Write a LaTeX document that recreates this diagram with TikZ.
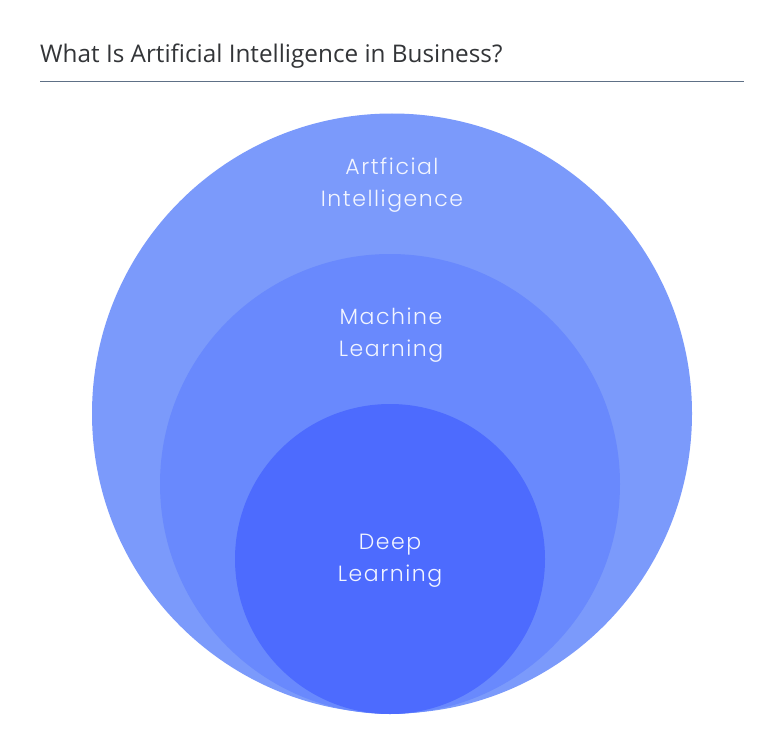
\documentclass[tikz,border=0pt]{standalone}
\usepackage{fontspec}
\setmainfont{Open Sans}
\newfontfamily\titlefont{Open Sans}
\newfontfamily\lblfont{Poppins}[UprightFont={* Light}, LetterSpace=7]
\definecolor{outerc}{HTML}{7B9AFB}
\definecolor{midc}{HTML}{6989FD}
\definecolor{innerc}{HTML}{4D6BFE}
\definecolor{titlec}{HTML}{333538}
\definecolor{rulec}{HTML}{5E7086}
\definecolor{labelc}{HTML}{F2F5FF}
\tikzset{
  ring/.style={circle, draw=none, inner sep=0pt, minimum size=#1},
  lbl/.style={text=labelc, font=\lblfont\fontsize{22}{32}\selectfont, align=center, inner sep=0pt},
}
\begin{document}
\begin{tikzpicture}[x=1pt,y=-1pt]
\useasboundingbox (0,0) rectangle (784,754);
\fill[white] (0,0) rectangle (784,754);
\node[anchor=base west, inner sep=0pt, text=titlec, font=\titlefont\fontsize{24.3}{28}\selectfont] (title) at (40,63) {What Is Artificial Intelligence in Business?};
\coordinate (r1) at (40,81.5);
\coordinate (r2) at (744,81.5);
\draw[rulec, line width=0.9pt] (r1) -- (r2);
\node[ring=600pt, fill=outerc] (ai) at (392,413.5) {};
\node[ring=460pt, fill=midc] (ml) at (390,484) {};
\node[ring=310pt, fill=innerc] (dl) at (390,559) {};
\node[lbl] (tai) at (392,185) {Artficial\\Intelligence};
\node[lbl] (tml) at (391,335) {Machine\\Learning};
\node[lbl] (tdl) at (390,561) {Deep\\Learning};
\end{tikzpicture}
\end{document}
